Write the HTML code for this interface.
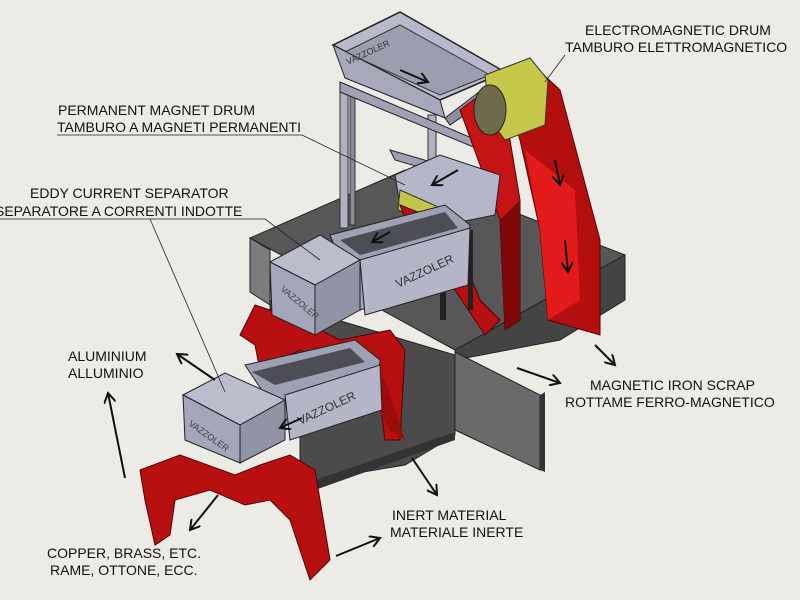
<!DOCTYPE html>
<html><head><meta charset="utf-8"><style>
body{margin:0;background:#ecebe6;}
svg{display:block}
text{font-family:"Liberation Sans",sans-serif;font-size:14px;fill:#111;}
</style></head><body>
<svg width="800" height="600" viewBox="0 0 800 600">
<rect width="800" height="600" fill="#ecebe6"/>
<defs><marker id="ah" markerWidth="12" markerHeight="12" refX="10" refY="6" orient="auto" markerUnits="userSpaceOnUse"><path d="M0,0 L10,6 L0,12" fill="none" stroke="#111" stroke-width="2"/></marker></defs>
<!-- concrete base -->
<polygon points="250,238 405,170 625,255 455,350" fill="#575757" stroke="#222"/>
<polygon points="250,238 270,250 270,305 250,292" fill="#7c7c7c" stroke="#222"/>
<polygon points="455,350 625,255 625,300 560,340 455,360" fill="#444" stroke="#222"/>
<polygon points="455,352 540,395 540,470 455,430" fill="#6a6a6a" stroke="#222"/>
<polygon points="540,395 545,392 545,472 540,470" fill="#333"/>
<polygon points="270,300 455,355 455,435 405,465 315,480 300,470 300,400 270,390" fill="#4b4b4b" stroke="#222"/>
<polygon points="315,480 455,432 455,440 315,490" fill="#333"/>
<!-- hopper frame legs -->
<rect x="340" y="88" width="8" height="140" fill="#b0b2c0" stroke="#333"/>
<rect x="350" y="95" width="5" height="130" fill="#8a8c9a" stroke="#333"/>
<rect x="428" y="115" width="8" height="120" fill="#b0b2c0" stroke="#333"/>
<!-- hopper -->
<polygon points="333,45 400,12 505,72 440,100" fill="#b8bacb" stroke="#222" stroke-width="1.5"/>
<polygon points="345,52 400,25 490,75 440,95" fill="#9c9eb0" stroke="#333"/>
<polygon points="333,45 345,78 445,118 440,100" fill="#a7a9bb" stroke="#222"/>
<polygon points="445,118 505,72 500,90 450,125" fill="#8e90a2" stroke="#222"/>
<polygon points="340,82 500,150 505,160 340,92" fill="#a0a2b4" stroke="#222"/>
<text x="348" y="65" transform="rotate(-25 348 65)" style="font-size:9px;fill:#333">VAZZOLER</text>
<line x1="400" y1="70" x2="428" y2="82" stroke="#111" stroke-width="2" marker-end="url(#ah)"/>
<!-- beam to permanent magnet -->
<polygon points="390,150 500,182 505,192 395,160" fill="#a0a2b4" stroke="#222"/>
<!-- electromagnetic red frame -->
<polygon points="460,110 500,80 520,200 520,320 505,330 500,220" fill="#c41414" stroke="#500" />
<polygon points="500,75 530,62 560,90 600,240 600,335 548,320 540,230 520,140" fill="#b30f0f" stroke="#500"/>
<polygon points="525,150 575,190 580,300 548,320 540,230" fill="#e31a1a"/>
<polygon points="500,220 520,200 520,320 505,330" fill="#7e0808"/>
<!-- yellow drum -->
<polygon points="485,75 530,58 548,80 545,125 505,140 490,120" fill="#c6c84a" stroke="#333"/>
<ellipse cx="490" cy="110" rx="16" ry="25" fill="#6d6b4a" stroke="#222"/>
<line x1="555" y1="160" x2="560" y2="185" stroke="#111" stroke-width="2" marker-end="url(#ah)"/>
<line x1="565" y1="240" x2="568" y2="272" stroke="#111" stroke-width="2" marker-end="url(#ah)"/>
<!-- permanent magnet unit -->
<polygon points="395,175 440,155 500,175 495,215 445,225 400,205" fill="#b5b7c8" stroke="#222"/>
<polygon points="400,190 445,210 440,225 398,210" fill="#c3c54a" stroke="#333"/>
<polygon points="400,205 450,225 480,300 500,320 485,335 455,290 410,230" fill="#b81010" stroke="#500"/>
<line x1="458" y1="170" x2="432" y2="185" stroke="#111" stroke-width="2" marker-end="url(#ah)"/>
<rect x="440" y="230" width="6" height="90" fill="#222"/>
<rect x="468" y="230" width="5" height="80" fill="#222"/>
<!-- upper eddy current separator -->
<polygon points="240,335 255,305 300,320 340,340 390,330 405,350 400,440 385,440 375,365 345,375 300,350 260,370 255,345" fill="#b81010" stroke="#500"/>
<polygon points="330,235 445,205 470,225 460,280 360,310" fill="#9ea0b3" stroke="#222"/>
<polygon points="340,240 445,212 458,228 360,255" fill="#4d4d55"/>
<polygon points="360,260 470,228 468,285 365,315" fill="#b4b6c7" stroke="#222"/>
<text x="398" y="288" transform="rotate(-25 398 288)" style="font-size:12px;fill:#333">VAZZOLER</text>
<polygon points="270,262 320,235 360,260 315,285" fill="#bbbdcd" stroke="#222"/>
<polygon points="270,262 315,285 315,335 272,315" fill="#a4a6b9" stroke="#222"/>
<polygon points="315,285 360,260 360,310 315,335" fill="#9193a6" stroke="#222"/>
<text x="280" y="290" transform="rotate(40 280 290)" style="font-size:9px;fill:#444">VAZZOLER</text>
<line x1="390" y1="232" x2="372" y2="242" stroke="#111" stroke-width="2" marker-end="url(#ah)"/>
<!-- lower eddy current separator with chutes -->
<polygon points="140,470 180,455 235,475 260,465 290,455 315,470 330,560 310,580 290,520 270,500 245,505 210,490 175,500 170,535 155,545 145,500" fill="#b81010" stroke="#500"/>
<polygon points="350,360 390,430 405,440 385,380" fill="#9a0c0c"/>
<polygon points="245,365 355,340 380,360 375,400 285,425" fill="#9ea0b3" stroke="#222"/>
<polygon points="252,372 350,348 365,362 275,385" fill="#4d4d55"/>
<polygon points="285,395 380,365 382,410 290,440" fill="#b4b6c7" stroke="#222"/>
<text x="300" y="425" transform="rotate(-25 300 425)" style="font-size:12px;fill:#333">VAZZOLER</text>
<polygon points="183,395 225,373 285,400 240,425" fill="#bbbdcd" stroke="#222"/>
<polygon points="183,395 240,425 240,463 185,440" fill="#a4a6b9" stroke="#222"/>
<polygon points="240,425 285,400 285,440 240,463" fill="#9193a6" stroke="#222"/>
<text x="188" y="425" transform="rotate(35 188 425)" style="font-size:9px;fill:#444">VAZZOLER</text>
<line x1="302" y1="418" x2="280" y2="428" stroke="#111" stroke-width="2" marker-end="url(#ah)"/>
<!-- labels -->
<text x="585" y="35">ELECTROMAGNETIC DRUM</text>
<text x="565" y="52">TAMBURO ELETTROMAGNETICO</text>
<line x1="565" y1="55" x2="545" y2="82" stroke="#222" stroke-width="0.8"/>
<text x="58" y="115">PERMANENT MAGNET DRUM</text>
<text x="57" y="132">TAMBURO A MAGNETI PERMANENTI</text>
<polyline points="57,135 302,135 405,185" fill="none" stroke="#222" stroke-width="0.8"/>
<text x="30" y="198">EDDY CURRENT SEPARATOR</text>
<text x="-5" y="216">SEPARATORE A CORRENTI INDOTTE</text>
<polyline points="0,219 265,219 320,260" fill="none" stroke="#222" stroke-width="0.8"/>
<line x1="150" y1="219" x2="225" y2="392" stroke="#222" stroke-width="0.8"/>
<text x="68" y="361">ALUMINIUM</text>
<text x="68" y="378">ALLUMINIO</text>
<text x="47" y="558">COPPER, BRASS, ETC.</text>
<text x="50" y="575">RAME, OTTONE, ECC.</text>
<text x="392" y="520">INERT MATERIAL</text>
<text x="390" y="537">MATERIALE INERTE</text>
<text x="590" y="390">MAGNETIC IRON SCRAP</text>
<text x="565" y="407">ROTTAME FERRO-MAGNETICO</text>
<!-- arrows -->
<g stroke="#111" stroke-width="2" fill="none">
<line x1="215" y1="380" x2="177" y2="354" marker-end="url(#ah)"/>
<line x1="125" y1="478" x2="108" y2="393" marker-end="url(#ah)"/>
<line x1="218" y1="495" x2="190" y2="530" marker-end="url(#ah)"/>
<line x1="336" y1="556" x2="380" y2="538" marker-end="url(#ah)"/>
<line x1="412" y1="458" x2="437" y2="495" marker-end="url(#ah)"/>
<line x1="517" y1="368" x2="560" y2="383" marker-end="url(#ah)"/>
<line x1="595" y1="345" x2="615" y2="365" marker-end="url(#ah)"/>
</g>
</svg>
</body></html>
